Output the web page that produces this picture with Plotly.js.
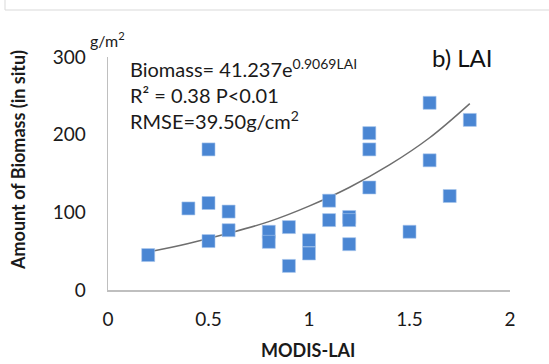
<!DOCTYPE html>
<html>
<head>
<meta charset="utf-8">
<script src="https://cdn.plot.ly/plotly-3.0.1.min.js"></script>
<style>
html,body{margin:0;padding:0;background:#fff;}
#chart{width:549px;height:364px;}
</style>
</head>
<body>
<div id="chart"></div>
<script>
// Observed points: MODIS-LAI vs in-situ biomass (g/m2)
const laiValues = [0.2, 0.4, 0.5, 0.5, 0.5, 0.6, 0.6, 0.8, 0.8, 0.9, 0.9, 1.0, 1.0, 1.1, 1.1, 1.2, 1.2, 1.2, 1.3, 1.3, 1.3, 1.5, 1.6, 1.6, 1.7, 1.8];
const biomassValues = [45, 105, 181, 112, 63, 101, 77, 75, 62, 81, 31, 64, 47, 115, 90, 94, 90, 59, 202, 181, 132, 75, 241, 167, 121, 219];

// Trend line as drawn in the picture
const trendX = [0.2, 0.4, 0.6, 0.8, 1.0, 1.2, 1.4, 1.6, 1.8];
const trendY = [49, 60, 73, 88, 108, 132, 161, 196, 240];

const xTicks = [0, 0.5, 1, 1.5, 2];
const xTickText = ['0', '0.5', '1', '1.5', '2'];
const yTicks = [0, 100, 200, 300];
const yTickText = ['0', '100', '200', '300'];

const FONT = 'Lato, "Open Sans", sans-serif';
const TXT = '#1a1a1a';

const traces = [
  {
    x: trendX, y: trendY, type: 'scatter', mode: 'lines',
    line: {color: '#6e6e6e', width: 1.5, shape: 'spline', smoothing: 1},
    hoverinfo: 'skip', showlegend: false
  },
  {
    x: laiValues, y: biomassValues, type: 'scatter', mode: 'markers',
    marker: {symbol: 'square', size: 13, color: '#4a86d3', line: {color: '#a8c6ec', width: 0.6}},
    showlegend: false
  }
];

const layout = {
  width: 549, height: 364,
  margin: {l: 108, r: 39, t: 57, b: 74},
  paper_bgcolor: '#ffffff', plot_bgcolor: '#ffffff',
  font: {family: FONT, color: TXT, size: 18},
  showlegend: false,
  xaxis: {
    range: [0, 2], tickvals: xTicks, ticktext: xTickText,
    showgrid: false, zeroline: false, showline: true, linecolor: '#bfbfbf', linewidth: 1.5,
    ticks: 'outside', ticklen: 12, tickcolor: 'rgba(0,0,0,0)',
    tickfont: {size: 19, family: FONT, color: TXT}
  },
  yaxis: {
    range: [0, 300], tickvals: yTicks, ticktext: yTickText,
    showgrid: false, zeroline: false, showline: true, linecolor: '#bfbfbf', linewidth: 1.5,
    ticks: 'outside', ticklen: 17, tickcolor: 'rgba(0,0,0,0)',
    tickfont: {size: 19, family: FONT, color: TXT}
  },
  shapes: [
    {type: 'line', xref: 'paper', yref: 'paper', x0: (5 - 108) / 402, x1: (549 - 108) / 402,
     y0: (290 - 10) / 233, y1: (290 - 10) / 233, line: {color: '#d9d9d9', width: 1}},
    {type: 'line', xref: 'paper', yref: 'paper', x0: (5 - 108) / 402, x1: (5 - 108) / 402,
     y0: (290 - 10) / 233, y1: 290 / 233 + 0.01, line: {color: '#d9d9d9', width: 1}}
  ],
  annotations: [
    {xref: 'paper', yref: 'paper', x: (128 - 108) / 402, y: (290 - 53) / 233, xanchor: 'left', yanchor: 'top',
     align: 'left', showarrow: false, font: {size: 20, family: FONT, color: TXT},
     text: 'Biomass= 41.237e<sup>0.9069LAI</sup><br>R² = 0.38 P<0.01<br>RMSE=39.50g/cm<sup>2</sup>'},
    {xref: 'paper', yref: 'paper', x: (430 - 108) / 402, y: (290 - 57) / 233, xanchor: 'left', yanchor: 'middle',
     showarrow: false, font: {size: 24, family: FONT, color: '#111'}, text: 'b) LAI'},
    {xref: 'paper', yref: 'paper', x: (88 - 108) / 402, y: (290 - 39) / 233, xanchor: 'left', yanchor: 'middle',
     showarrow: false, font: {size: 16, family: FONT, color: TXT}, text: 'g/m<sup>2</sup>'},
    {xref: 'paper', yref: 'paper', x: (308 - 108) / 402, y: (290 - 350) / 233, xanchor: 'center', yanchor: 'middle',
     showarrow: false, font: {size: 18, family: FONT, color: TXT}, text: '<b>MODIS-LAI</b>'},
    {xref: 'paper', yref: 'paper', x: (18 - 108) / 402, y: (290 - 160) / 233, xanchor: 'center', yanchor: 'middle',
     textangle: -90, showarrow: false, font: {size: 18, family: FONT, color: TXT}, text: '<b>Amount of Biomass (in situ)</b>'}
  ]
};

Plotly.newPlot('chart', traces, layout, {displayModeBar: false, staticPlot: true});
</script>
</body>
</html>
